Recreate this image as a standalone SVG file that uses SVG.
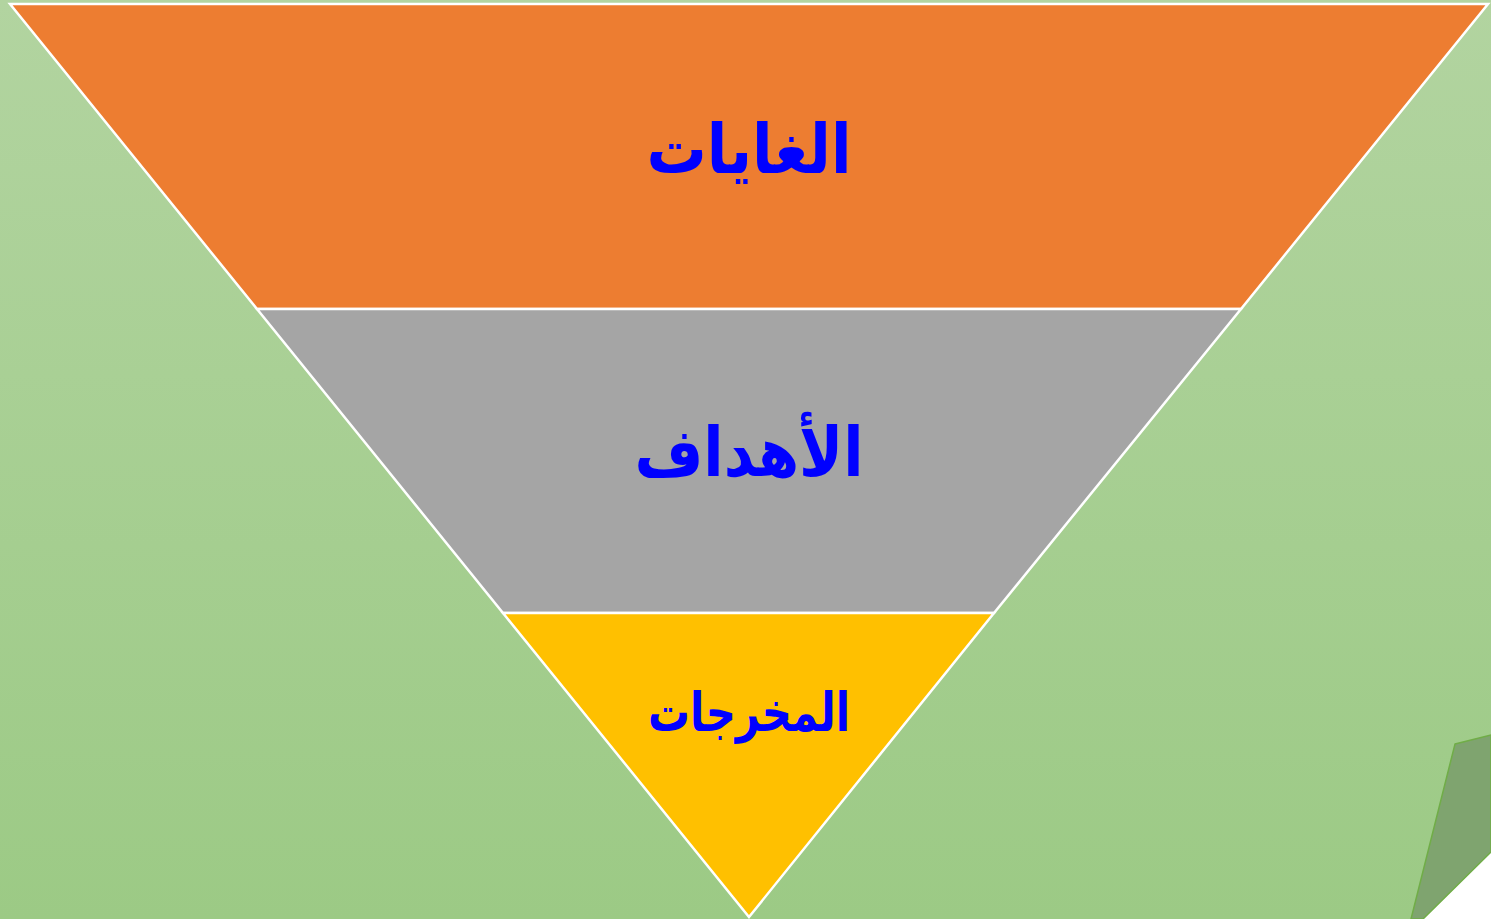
<svg xmlns="http://www.w3.org/2000/svg" width="1491" height="919" viewBox="0 0 1491 919">
<defs>
<linearGradient id="bg" x1="0" y1="0" x2="0" y2="1">
<stop offset="0" stop-color="#b2d4a0"/>
<stop offset="1" stop-color="#9cca85"/>
</linearGradient>
<style>
.layer{stroke:#ffffff;stroke-width:2.5;stroke-linejoin:miter}
.lbl{font-family:"DejaVu Sans","Noto Sans",sans-serif;font-weight:bold;fill:#0000ff;text-anchor:middle}
</style>
</defs>
<rect x="0" y="0" width="1491" height="919" fill="url(#bg)"/>
<g id="page-curl">
<polygon points="1491,852 1491,919 1423,919" fill="#ffffff"/>
<polygon points="1455,744 1491,735 1491,852 1423,919 1411,919" fill="#7fa46f" stroke="#70ad47" stroke-width="1.5"/>
</g>
<g id="node-goals">
<polygon class="layer" points="10,4 1488,4 1241,309 257,309" fill="#ed7d31"/>
<text class="lbl" x="749" y="173" font-size="68" direction="rtl" textLength="205" lengthAdjust="spacingAndGlyphs">الغايات</text>
</g>
<g id="node-objectives">
<polygon class="layer" points="257,309 1241,309 994,613 503,613" fill="#a5a5a5"/>
<text class="lbl" x="749" y="476" font-size="68" direction="rtl" textLength="229" lengthAdjust="spacingAndGlyphs">الأهداف</text>
</g>
<g id="node-outputs">
<polygon class="layer" points="503,613 994,613 749,917" fill="#ffc000"/>
<text class="lbl" x="749" y="731" font-size="54" direction="rtl" textLength="202" lengthAdjust="spacingAndGlyphs">المخرجات</text>
</g>
<g id="connectors"></g>
</svg>
